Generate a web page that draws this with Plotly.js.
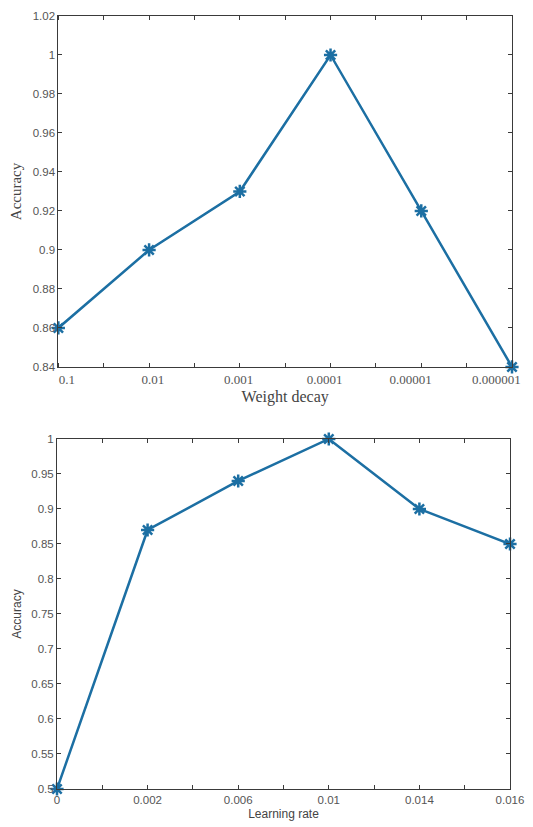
<!DOCTYPE html>
<html>
<head>
<meta charset="utf-8">
<script src="https://cdn.plot.ly/plotly-3.0.1.min.js"></script>
<style>html,body{margin:0;padding:0;background:#fff}#chart{width:533px;height:827px}</style>
</head>
<body>
<div id="chart"></div>
<script>
const weightDecayLabels = ['0.1', '0.01', '0.001', '0.0001', '0.00001', '0.000001'];
const weightDecayAccuracy = [0.86, 0.90, 0.93, 1.00, 0.92, 0.84];
const learningRateLabels = ['0', '0.002', '0.006', '0.01', '0.014', '0.016'];
const learningRateAccuracy = [0.50, 0.87, 0.94, 1.00, 0.90, 0.85];

const color = '#1c6fa3';
const idx1 = weightDecayLabels.map((_, i) => i);
const idx2 = learningRateLabels.map((_, i) => i);
// the reference spreads the top tick labels slightly inward so the last one fits
const labelPos1 = idx1.map(i => 0.094 + i * 0.947);

function trace(x, y, xa, ya) {
  return {
    x: x, y: y, xaxis: xa, yaxis: ya, type: 'scatter', mode: 'lines+markers',
    line: {color: color, width: 2.5},
    marker: {symbol: 'asterisk-open', size: 11, color: color, line: {color: color, width: 2.5}},
    cliponaxis: false, showlegend: false
  };
}

const axisCommon = {
  showline: true, linecolor: '#3a3a3a', linewidth: 1, mirror: 'allticks',
  ticks: 'inside', ticklen: 4, tickcolor: '#3a3a3a', showgrid: false, zeroline: false,
  ticklabeloverflow: 'allow'
};
const minorTicks = {dtick: 0.5, tick0: 0, ticks: 'inside', ticklen: 4, tickcolor: '#3a3a3a', showgrid: false};

const layout = {
  width: 533, height: 827,
  margin: {l: 57, r: 21, t: 16, b: 38},
  paper_bgcolor: '#fff', plot_bgcolor: '#fff',
  xaxis: Object.assign({}, axisCommon, {
    domain: [0.003, 1], anchor: 'y', range: [0, 5],
    ticks: '', tickvals: labelPos1, ticktext: weightDecayLabels,
    minor: minorTicks,
    tickfont: {family: '"Liberation Serif", "DejaVu Serif", serif', size: 13, color: '#555'},
    title: {text: 'Weight decay', font: {family: '"Liberation Serif", serif', size: 16, color: '#444'}, standoff: 5}
  }),
  yaxis: Object.assign({}, axisCommon, {
    domain: [0.546, 1], anchor: 'x', range: [0.84, 1.02],
    tickvals: [0.84, 0.86, 0.88, 0.9, 0.92, 0.94, 0.96, 0.98, 1, 1.02],
    ticktext: ['0.84', '0.86', '0.88', '0.9', '0.92', '0.94', '0.96', '0.98', '1', '1.02'],
    tickfont: {family: '"Liberation Sans", Arial, sans-serif', size: 11.5, color: '#555'},
    title: {text: 'Accuracy', font: {family: '"Liberation Serif", serif', size: 15, color: '#444'}, standoff: 7}
  }),
  xaxis2: Object.assign({}, axisCommon, {
    domain: [0, 0.9956], anchor: 'y2', range: [0, 5],
    tickvals: idx2, ticktext: learningRateLabels,
    minor: minorTicks,
    tickfont: {family: '"Liberation Sans", Arial, sans-serif', size: 11.5, color: '#555'},
    title: {text: 'Learning rate', font: {family: '"Liberation Sans", Arial, sans-serif', size: 12, color: '#444'}, standoff: 4}
  }),
  yaxis2: Object.assign({}, axisCommon, {
    domain: [0, 0.4528], anchor: 'x2', range: [0.5, 1],
    tickvals: [0.5, 0.55, 0.6, 0.65, 0.7, 0.75, 0.8, 0.85, 0.9, 0.95, 1],
    ticktext: ['0.5', '0.55', '0.6', '0.65', '0.7', '0.75', '0.8', '0.85', '0.9', '0.95', '1'],
    tickfont: {family: '"Liberation Sans", Arial, sans-serif', size: 11.5, color: '#555'},
    title: {text: 'Accuracy', font: {family: '"Liberation Sans", Arial, sans-serif', size: 12, color: '#444'}, standoff: 7}
  })
};

Plotly.newPlot('chart', [
  trace(idx1, weightDecayAccuracy, 'x', 'y'),
  trace(idx2, learningRateAccuracy, 'x2', 'y2')
], layout, {displayModeBar: false, staticPlot: true});
</script>
</body>
</html>
